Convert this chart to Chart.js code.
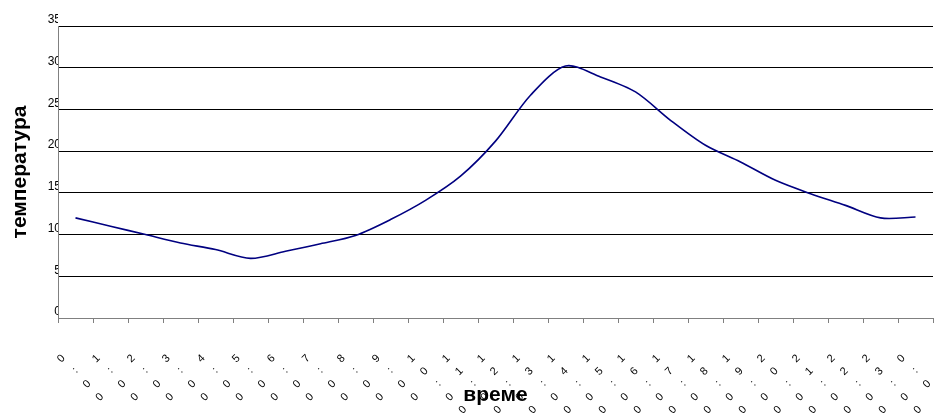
<!DOCTYPE html>
<html>
<head>
<meta charset="utf-8">
<script src="https://cdn.jsdelivr.net/npm/chart.js@4.4.0/dist/chart.umd.min.js"></script>
<style>
  html, body { margin: 0; padding: 0; background: #fff; }
  #wrap { width: 935px; height: 417px; }
</style>
</head>
<body>
<div id="wrap"><canvas id="tempChart"></canvas></div>
<script>
// hours of the day, last one wraps back to 0:00
const hours = ['0:00', '1:00', '2:00', '3:00', '4:00', '5:00', '6:00', '7:00', '8:00', '9:00',
  '10:00', '11:00', '12:00', '13:00', '14:00', '15:00', '16:00', '17:00', '18:00', '19:00',
  '20:00', '21:00', '22:00', '23:00', '0:00'];

// temperature
const temperature = [12.0, 11.0, 10.0, 9.0, 8.2, 7.15, 8.0, 8.9, 9.9, 11.8,
  14.1, 17.0, 21.2, 26.7, 30.2, 28.9, 27.1, 23.7, 20.7, 18.7,
  16.5, 14.9, 13.5, 12.0, 12.1];

const yTicks = [0, 5, 10, 15, 20, 25, 30, 35];

// excel style stacked labels: one character per line
const stackedLabels = hours.map(h => h.split(''));

const ctx = document.getElementById('tempChart').getContext('2d');
new Chart(ctx, {
  type: 'line',
  data: {
    labels: stackedLabels,
    datasets: [{
      label: 'температура',
      data: temperature,
      borderColor: '#000080',
      borderWidth: 1.6,
      pointRadius: 0,
      tension: 0.3,
      fill: false
    }]
  },
  options: {
    responsive: true,
    maintainAspectRatio: false,
    animation: false,
    layout: { padding: { top: 26, right: 2, left: 0, bottom: 0 } },
    plugins: { legend: { display: false }, tooltip: { enabled: false } },
    scales: {
      x: {
        offset: true,
        afterFit: scale => {
          scale.height = 99;
          // rotated labels would otherwise squeeze the plot from the sides
          scale.paddingLeft = 0;
          scale.paddingRight = 0;
        },
        grid: { display: true, drawOnChartArea: false, offset: true, color: '#808080', tickLength: 5 },
        border: { color: '#808080' },
        ticks: {
          autoSkip: false,
          minRotation: 45,
          maxRotation: 45,
          padding: 27,
          labelOffset: -12,
          color: '#000',
          font: { family: 'Liberation Sans, Arial, sans-serif', size: 11, lineHeight: 1.65 }
        },
        title: {
          display: true,
          text: 'време',
          color: '#000',
          font: { family: 'Liberation Sans, Arial, sans-serif', size: 21, weight: 'bold' },
          padding: { top: 0, bottom: 9 }
        }
      },
      y: {
        min: 0,
        max: 35,
        afterFit: scale => { scale.width = 58; },
        afterBuildTicks: scale => { scale.ticks = yTicks.map(v => ({ value: v })); },
        grid: { color: '#000', drawTicks: false },
        border: { color: '#808080' },
        ticks: {
          padding: -3,
          labelOffset: -6,
          color: '#000',
          font: { family: 'Liberation Sans, Arial, sans-serif', size: 12 }
        },
        title: {
          display: true,
          text: 'температура',
          color: '#000',
          font: { family: 'Liberation Sans, Arial, sans-serif', size: 21, weight: 'bold' },
          padding: { top: 8, bottom: 0 }
        }
      }
    }
  }
});
</script>
</body>
</html>
